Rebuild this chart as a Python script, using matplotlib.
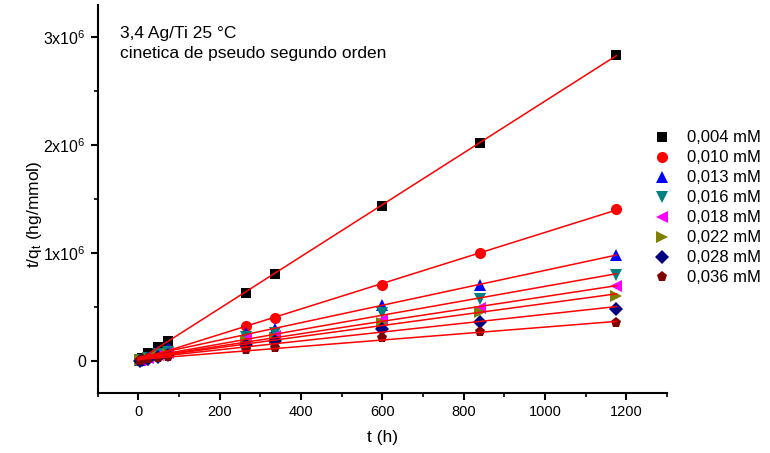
import numpy as np
from matplotlib import pyplot as plt
from matplotlib.ticker import MultipleLocator, FuncFormatter

plt.rcParams['font.family'] = ['Liberation Sans', 'DejaVu Sans']
plt.rcParams['mathtext.default'] = 'regular'

# time (h)
t = [3, 8, 24, 48, 72, 264, 336, 600, 840, 1176]

# t/q_t (x1e6 hg/mmol) per concentration
q_004 = [0.01, 0.03, 0.07, 0.13, 0.18, 0.63, 0.81, 1.44, 2.02, 2.84]
q_010 = [0.01, 0.02, 0.04, 0.07, 0.10, 0.32, 0.40, 0.70, 1.00, 1.41]
q_013 = [0.005, 0.015, 0.04, 0.09, 0.12, 0.26, 0.30, 0.52, 0.70, 0.98]
q_016 = [0.005, 0.01, 0.03, 0.06, 0.08, 0.22, 0.26, 0.44, 0.57, 0.80]
q_018 = [0.004, 0.01, 0.03, 0.05, 0.07, 0.20, 0.23, 0.38, 0.49, 0.69]
q_022 = [0.004, 0.01, 0.025, 0.045, 0.06, 0.18, 0.21, 0.35, 0.45, 0.60]
q_028 = [0.003, 0.008, 0.02, 0.04, 0.05, 0.15, 0.18, 0.30, 0.36, 0.48]
q_036 = [0.002, 0.006, 0.015, 0.03, 0.04, 0.10, 0.12, 0.21, 0.27, 0.35]

labels = ['0,004 mM', '0,010 mM', '0,013 mM', '0,016 mM',
          '0,018 mM', '0,022 mM', '0,028 mM', '0,036 mM']
series = [q_004, q_010, q_013, q_016, q_018, q_022, q_028, q_036]
colors = ['black', 'red', 'blue', '#008080', 'magenta', '#808000', '#000080', '#800000']
markers = ['s', 'o', '^', 'v', '<', '>', 'D', 'p']
sizes = [6.5, 8, 8, 8, 8, 8, 7, 8]

fig = plt.figure(figsize=(7.7, 4.53), dpi=100)
ax = fig.add_axes([0.127, 0.132, 0.739, 0.857])

tt = np.array(t)
handles = []
for vals, lab, c, m, s in zip(series, labels, colors, markers, sizes):
    y = np.array(vals) * 1e6
    h, = ax.plot(tt, y, linestyle='none', marker=m, color=c, markersize=s,
                 markeredgewidth=0, label=lab, zorder=3)
    handles.append(h)

# linear fits drawn on top
for vals in series:
    y = np.array(vals) * 1e6
    k, b = np.polyfit(tt, y, 1)
    xf = np.array([0, tt.max()])
    ax.plot(xf, k * xf + b, color='red', lw=1.1, zorder=4)

ax.set_xlim(-100, 1300)
ax.set_ylim(-0.3e6, 3.3e6)
ax.xaxis.set_major_locator(MultipleLocator(200))
ax.xaxis.set_minor_locator(MultipleLocator(100))
ax.yaxis.set_major_locator(MultipleLocator(1e6))
ax.yaxis.set_minor_locator(MultipleLocator(0.5e6))


def yfmt(v, pos):
    n = int(round(v / 1e6))
    return '0' if n == 0 else '%dx10$^{6}$' % n


ax.yaxis.set_major_formatter(FuncFormatter(yfmt))
ax.spines['top'].set_visible(False)
ax.spines['right'].set_visible(False)
for sp in ['left', 'bottom']:
    ax.spines[sp].set_linewidth(1.5)
ax.tick_params(which='major', direction='out', length=5, width=1.5, labelsize=10.5)
ax.tick_params(axis='y', which='major', labelsize=11.5)
ax.tick_params(which='minor', direction='out', length=3, width=1.2)

ax.set_xlabel('t (h)', fontsize=12.5, labelpad=8)
ax.set_ylabel('t/q$_t$ (hg/mmol)', fontsize=12.5)
ax.yaxis.set_label_coords(-0.095, 0.46)

fig.text(0.156, 0.925, '3,4 Ag/Ti 25 °C', fontsize=12.5, va='center')
fig.text(0.156, 0.883, 'cinetica de pseudo segundo orden', fontsize=12.5, va='center')

fig.legend(handles=handles, loc='upper left', bbox_to_anchor=(0.838, 0.727),
           frameon=False, fontsize=12, labelspacing=0.3, handlelength=1.2,
           handletextpad=0.9, borderaxespad=0)

fig.savefig('out.png', dpi=100)
